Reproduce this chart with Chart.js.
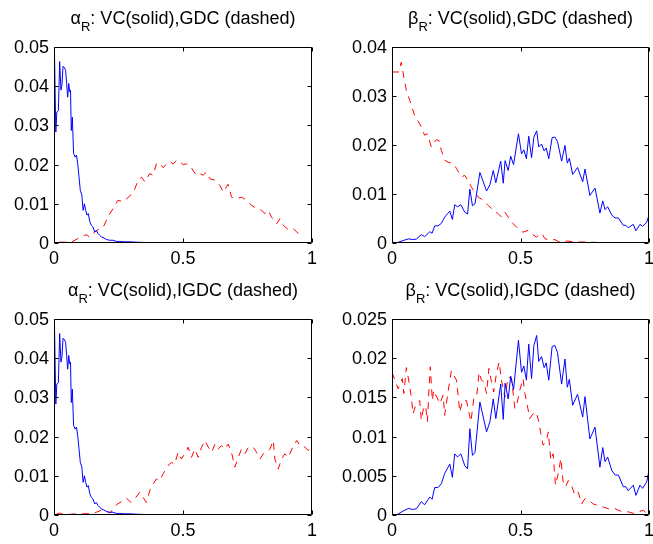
<!DOCTYPE html>
<html>
<head>
<meta charset="utf-8">
<script src="https://cdn.jsdelivr.net/npm/chart.js@4/dist/chart.umd.min.js"></script>
<style>
  html, body { margin: 0; padding: 0; background: #fff; }
  body { width: 653px; height: 544px; position: relative; overflow: hidden; }
  canvas { position: absolute; }
</style>
</head>
<body>
<canvas id="c1" width="326" height="272" style="left:0;top:0"></canvas>
<canvas id="c2" width="327" height="272" style="left:326px;top:0"></canvas>
<canvas id="c3" width="326" height="272" style="left:0;top:272px"></canvas>
<canvas id="c4" width="327" height="272" style="left:326px;top:272px"></canvas>
<script>
// ---------- tick labels ----------
const xTicks = [0, 0.5, 1];
const yTicksAlpha = [0, 0.01, 0.02, 0.03, 0.04, 0.05];
const yTicksBetaGDC = [0, 0.01, 0.02, 0.03, 0.04];
const yTicksBetaIGDC = [0, 0.005, 0.01, 0.015, 0.02, 0.025];

// ---------- titles ----------
const titleAlphaGDC = ["\u03B1", "R", ": VC(solid),GDC (dashed)"];
const titleBetaGDC = ["\u03B2", "R", ": VC(solid),GDC (dashed)"];
const titleAlphaIGDC = ["\u03B1", "R", ": VC(solid),IGDC (dashed)"];
const titleBetaIGDC = ["\u03B2", "R", ": VC(solid),IGDC (dashed)"];

// ---------- alpha_R, VC (solid) ----------
const alphaVCx = [0.002,0.007,0.011,0.017,0.022,0.027,0.031,0.035,0.040,0.045,0.049,0.053,0.057,0.061,0.064,0.067,0.071,0.076,0.082,0.087,0.092,0.097,0.102,0.108,0.113,0.118,0.123,0.128,0.133,0.139,0.145,0.151,0.158,0.164,0.171,0.177,0.184,0.190,0.203,0.216,0.229,0.242,0.255,0.268,0.294,0.320,0.358,0.390];
const alphaVCy = [0.0479,0.0283,0.0334,0.0338,0.0463,0.039,0.0405,0.0451,0.0448,0.044,0.0407,0.0372,0.0407,0.0386,0.039,0.0287,0.0321,0.0228,0.0219,0.0224,0.0202,0.0168,0.0134,0.0122,0.0083,0.01,0.0083,0.0071,0.0075,0.0054,0.0045,0.0041,0.0028,0.0032,0.0024,0.002,0.0015,0.0014,0.0009,0.0007,0.0007,0.0004,0.0004,0.0003,0.0003,0.0002,0.0001,0];

// ---------- alpha_R, GDC (dashed) ----------
const alphaGDCx = [0.02,0.028,0.067,0.1,0.119,0.128,0.138,0.158,0.177,0.19,0.21,0.229,0.248,0.268,0.287,0.307,0.326,0.339,0.352,0.371,0.384,0.397,0.41,0.423,0.436,0.449,0.462,0.475,0.488,0.501,0.514,0.527,0.539,0.552,0.565,0.578,0.591,0.604,0.624,0.643,0.656,0.675,0.688,0.708,0.727,0.746,0.766,0.785,0.805,0.818,0.831,0.843,0.863,0.876,0.889,0.908,0.927,0.947,0.953];
const alphaGDCy = [0.0002,0.0002,0.0002,0.0014,0.002,0.0021,0.0014,0.0028,0.0037,0.0039,0.0068,0.0088,0.0109,0.0105,0.0116,0.0128,0.016,0.0168,0.0156,0.0177,0.0173,0.0202,0.0204,0.0192,0.0202,0.0207,0.0202,0.0211,0.0207,0.02,0.0202,0.0198,0.0185,0.0173,0.0177,0.0173,0.0181,0.0164,0.016,0.0147,0.013,0.015,0.0117,0.0113,0.0117,0.0109,0.0096,0.0088,0.0083,0.0075,0.0083,0.0066,0.0049,0.0062,0.0045,0.0034,0.0037,0.0024,0.0024];

// ---------- alpha_R, IGDC (dashed) ----------
const alphaIGDCx = [0.009,0.022,0.035,0.048,0.087,0.125,0.164,0.19,0.216,0.242,0.261,0.281,0.298,0.313,0.332,0.345,0.358,0.371,0.384,0.397,0.41,0.423,0.442,0.455,0.468,0.481,0.494,0.507,0.52,0.533,0.546,0.559,0.572,0.585,0.598,0.611,0.624,0.636,0.649,0.662,0.675,0.688,0.701,0.714,0.727,0.74,0.753,0.772,0.785,0.798,0.811,0.824,0.837,0.85,0.856,0.869,0.882,0.895,0.908,0.928,0.941,0.953,0.973,0.986,0.999];
const alphaIGDCy = [0.0002,0.0005,0.0002,0.0001,0.0003,0.0003,0.0007,0.0014,0.0005,0.0026,0.0034,0.0043,0.0032,0.0041,0.0058,0.0045,0.0032,0.0062,0.0079,0.0092,0.0088,0.0105,0.0126,0.0134,0.013,0.016,0.0143,0.0156,0.0173,0.0147,0.0168,0.0147,0.0173,0.019,0.0173,0.016,0.0181,0.0168,0.0177,0.0168,0.0181,0.016,0.0122,0.0147,0.0168,0.0156,0.0173,0.0173,0.016,0.0143,0.0156,0.016,0.0168,0.019,0.0143,0.0117,0.0143,0.0156,0.0147,0.0177,0.019,0.0177,0.0173,0.0164,0.0184];

// ---------- beta_R, VC (solid) ----------
const betaVCx = [0.017,0.043,0.065,0.079,0.095,0.114,0.127,0.147,0.156,0.166,0.179,0.192,0.205,0.225,0.235,0.244,0.255,0.268,0.283,0.294,0.303,0.313,0.323,0.342,0.368,0.381,0.394,0.404,0.423,0.433,0.440,0.452,0.462,0.473,0.492,0.504,0.513,0.523,0.532,0.543,0.552,0.563,0.571,0.582,0.592,0.600,0.610,0.623,0.634,0.644,0.660,0.673,0.682,0.690,0.703,0.722,0.742,0.751,0.770,0.790,0.809,0.820,0.829,0.839,0.855,0.868,0.881,0.900,0.910,0.919,0.939,0.949,0.965,0.975,0.991,1.0];
const betaVCy = [0,0.0005,0.00085,0.0007,0.0008,0.0017,0.0013,0.0023,0.002,0.0035,0.0035,0.004,0.0053,0.0065,0.0048,0.0078,0.0074,0.0078,0.0063,0.0059,0.011,0.0076,0.008,0.0144,0.0106,0.0119,0.0148,0.0123,0.0167,0.0122,0.0168,0.0148,0.0177,0.016,0.0223,0.0182,0.019,0.0172,0.0218,0.0174,0.0216,0.0229,0.0196,0.0202,0.0188,0.0194,0.0172,0.0215,0.0216,0.0207,0.0167,0.0199,0.0163,0.0173,0.014,0.0154,0.0125,0.0151,0.0097,0.0112,0.0061,0.0086,0.0068,0.0074,0.0057,0.0051,0.0051,0.0036,0.0036,0.0031,0.0038,0.0025,0.0038,0.0034,0.0042,0.0057];

// ---------- beta_R, GDC (dashed) ----------
const betaGDCx = [0,0.027,0.036,0.046,0.056,0.069,0.088,0.108,0.127,0.137,0.153,0.173,0.183,0.192,0.205,0.218,0.238,0.251,0.270,0.283,0.296,0.309,0.322,0.335,0.355,0.374,0.394,0.413,0.426,0.439,0.452,0.472,0.491,0.510,0.530,0.543,0.562,0.582,0.595,0.614,0.634,0.647,0.68,0.72,0.76,0.80,0.82];
const betaGDCy = [0.0349,0.0349,0.0369,0.0339,0.0311,0.0291,0.026,0.0243,0.022,0.0223,0.0196,0.0211,0.0209,0.0189,0.0169,0.0165,0.0162,0.0152,0.0135,0.0138,0.0128,0.0114,0.0104,0.0094,0.0087,0.0077,0.0067,0.006,0.0053,0.0063,0.0053,0.0039,0.0029,0.0022,0.0026,0.0019,0.0012,0.002,0.0009,0.0005,0.0007,0.0003,0.0004,0.0002,0.0002,0.0001,0.0001];

// ---------- beta_R, IGDC (dashed) ----------
const betaIGDCx = [0,0.014,0.024,0.040,0.046,0.056,0.066,0.074,0.082,0.092,0.108,0.114,0.124,0.131,0.138,0.144,0.149,0.157,0.162,0.186,0.199,0.205,0.218,0.231,0.251,0.264,0.274,0.290,0.296,0.307,0.318,0.329,0.339,0.348,0.357,0.368,0.377,0.387,0.396,0.407,0.417,0.426,0.439,0.452,0.465,0.478,0.484,0.497,0.510,0.517,0.523,0.536,0.549,0.562,0.571,0.579,0.588,0.601,0.608,0.618,0.627,0.636,0.647,0.657,0.666,0.675,0.686,0.696,0.712,0.725,0.738,0.751,0.764,0.784,0.803,0.823,0.842,0.862,0.881,0.900,0.920,0.939,0.958,0.978,0.991];
const betaIGDCy = [0.0182,0.017,0.0161,0.0174,0.0155,0.0188,0.017,0.0153,0.0129,0.014,0.0146,0.0121,0.0139,0.0138,0.0119,0.0161,0.0189,0.0146,0.0159,0.0142,0.0153,0.0127,0.0157,0.0184,0.0172,0.0131,0.0146,0.0146,0.0136,0.0119,0.0148,0.015,0.0182,0.0172,0.017,0.0155,0.0187,0.017,0.0157,0.0182,0.0195,0.0172,0.015,0.0176,0.0174,0.0136,0.0138,0.0159,0.0174,0.0155,0.0146,0.0123,0.0129,0.0131,0.0119,0.0104,0.0089,0.0095,0.0106,0.007,0.0078,0.0038,0.0053,0.0072,0.0042,0.0036,0.0044,0.004,0.0025,0.0029,0.0014,0.0021,0.0019,0.0014,0.0012,0.001,0.0008,0.0009,0.0006,0.0004,0.0004,0.0002,0.0004,0.0006,0.0002];

const FONT = '"Liberation Sans", Arial, Helvetica, sans-serif';

function pts(xs, ys) { return xs.map((x, i) => ({ x: x, y: ys[i] })); }

const matlabPlugin = {
  id: 'matlabBox',
  afterDatasetsDraw(chart, args, opts) {
    const ctx = chart.ctx, a = chart.chartArea;
    const xs = chart.scales.x, ys = chart.scales.y;
    const L = Math.round(a.left) + 0.5, R = Math.round(a.right) - 0.5;
    const T = Math.round(a.top) + 0.5, B = Math.round(a.bottom) - 0.5;
    ctx.save();
    ctx.strokeStyle = '#000';
    ctx.lineWidth = 1;
    ctx.beginPath();
    ctx.rect(L, T, R - L, B - T);
    const tl = 4;
    xs.ticks.forEach(t => {
      const p = Math.round(xs.getPixelForValue(t.value)) + 0.5;
      ctx.moveTo(p, B); ctx.lineTo(p, B - tl);
      ctx.moveTo(p, T); ctx.lineTo(p, T + tl);
    });
    ys.ticks.forEach(t => {
      const p = Math.round(ys.getPixelForValue(t.value)) + 0.5;
      ctx.moveTo(L, p); ctx.lineTo(L + tl, p);
      ctx.moveTo(R, p); ctx.lineTo(R - tl, p);
    });
    ctx.stroke();
    // title with subscript
    const parts = opts.parts;
    ctx.fillStyle = '#000';
    ctx.textBaseline = 'alphabetic';
    ctx.textAlign = 'left';
    ctx.font = '18px ' + FONT;
    const w1 = ctx.measureText(parts[0]).width;
    const w3 = ctx.measureText(parts[2]).width;
    ctx.font = '13px ' + FONT;
    const w2 = ctx.measureText(parts[1]).width;
    const cx = (a.left + a.right) / 2;
    let x0 = cx - (w1 + w2 + w3) / 2;
    ctx.font = '18px ' + FONT;
    ctx.fillText(parts[0], x0, 24);
    ctx.font = '13px ' + FONT;
    ctx.fillText(parts[1], x0 + w1, 31);
    ctx.font = '18px ' + FONT;
    ctx.fillText(parts[2], x0 + w1 + w2, 24);
    ctx.restore();
  }
};

function makeChart(id, title, yMax, yTicks, yAxisW, rightPad, solid, dashed) {
  return new Chart(document.getElementById(id), {
    type: 'line',
    data: {
      datasets: [
        { data: solid, borderColor: '#0000ff', borderWidth: 1, pointRadius: 0, tension: 0, fill: false },
        { data: dashed, borderColor: '#ff0000', borderWidth: 1, borderDash: [7, 6], pointRadius: 0, tension: 0, fill: false }
      ]
    },
    options: {
      responsive: false,
      animation: false,
      devicePixelRatio: 1,
      events: [],
      layout: { padding: { top: 47, right: rightPad, bottom: 0, left: 0 } },
      plugins: {
        legend: { display: false },
        tooltip: { enabled: false },
        title: { display: false },
        matlabBox: { parts: title }
      },
      scales: {
        x: {
          type: 'linear', min: 0, max: 1,
          grid: { display: false, drawTicks: false },
          border: { display: false },
          ticks: { color: '#000', padding: 5, maxRotation: 0, autoSkip: false, font: { family: FONT, size: 18 }, callback: v => String(v) },
          afterBuildTicks: s => { s.ticks = xTicks.map(v => ({ value: v })); },
          afterFit: s => { s.height = 29; s.paddingLeft = 0; s.paddingRight = 0; }
        },
        y: {
          type: 'linear', min: 0, max: yMax,
          grid: { display: false, drawTicks: false },
          border: { display: false },
          ticks: { color: '#000', padding: 5, autoSkip: false, labelOffset: 1, font: { family: FONT, size: 18 }, callback: v => String(v) },
          afterBuildTicks: s => { s.ticks = yTicks.map(v => ({ value: v })); },
          afterFit: s => { s.width = yAxisW; s.paddingTop = 0; s.paddingBottom = 0; }
        }
      }
    },
    plugins: [matlabPlugin]
  });
}

makeChart('c1', titleAlphaGDC, 0.05, yTicksAlpha, 54, 14, pts(alphaVCx, alphaVCy), pts(alphaGDCx, alphaGDCy));
makeChart('c2', titleBetaGDC, 0.04, yTicksBetaGDC, 66, 4, pts(betaVCx, betaVCy), pts(betaGDCx, betaGDCy));
makeChart('c3', titleAlphaIGDC, 0.05, yTicksAlpha, 54, 14, pts(alphaVCx, alphaVCy), pts(alphaIGDCx, alphaIGDCy));
makeChart('c4', titleBetaIGDC, 0.025, yTicksBetaIGDC, 66, 4, pts(betaVCx, betaVCy), pts(betaIGDCx, betaIGDCy));
</script>
</body>
</html>
